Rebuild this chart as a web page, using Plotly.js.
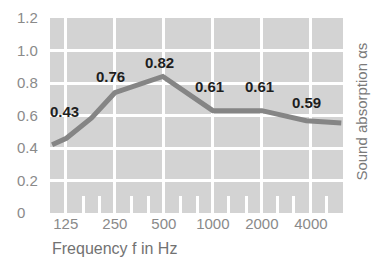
<!DOCTYPE html>
<html>
<head>
<meta charset="utf-8">
<script src="https://cdn.plot.ly/plotly-3.0.1.min.js"></script>
<style>html,body{margin:0;padding:0;background:#fff;}#chart{width:371px;height:258px;}</style>
</head>
<body>
<div id="chart"></div>
<script>
// Curve (frequency in Hz, absorption)
const curveFreq = [103, 126, 180, 250, 493, 1000, 2000, 3750, 6150];
const curveAlpha = [0.42, 0.46, 0.585, 0.74, 0.84, 0.63, 0.63, 0.568, 0.554];

// Octave-band labels
const labelFreq = [125, 250, 500, 1000, 2000, 4000];
const labelValue = [0.43, 0.76, 0.82, 0.61, 0.61, 0.59];

// Axis ticks
const octaveTicks = [125, 250, 500, 1000, 2000, 4000];
const octaveTickText = ['125', '250', '500', '1000', '2000', '4000'];
const thirdOctaveTicks = [160, 200, 315, 400, 630, 800, 1250, 1600, 2500, 3150, 5000];
const yTicks = [0, 0.2, 0.4, 0.6, 0.8, 1.0, 1.2];
const yTickText = ['0', '0.2', '0.4', '0.6', '0.8', '1.0', '1.2'];

// label placement offsets (px)
const labelXShift = [-1, -4, -4, -3, -2, -4];
const labelYShift = [32, 13, 17, 27, 27, 15];

const FONT = 'Liberation Sans, Arial, sans-serif';

const annotations = labelFreq.map((f, i) => ({
  x: Math.log10(f), y: labelValue[i], xref: 'x', yref: 'y',
  text: labelValue[i].toFixed(2), showarrow: false,
  xshift: labelXShift[i], yshift: labelYShift[i],
  font: {family: FONT, size: 15, color: '#1e1e1e', weight: 'bold'}
}));
annotations.push({
  xref: 'paper', yref: 'paper', x: 1, y: 0.52, xshift: 19,
  text: 'Sound absorption αs', textangle: -90, showarrow: false,
  xanchor: 'center', yanchor: 'middle',
  font: {family: FONT, size: 15, color: '#7a7a7a'}
});
annotations.push({
  xref: 'paper', yref: 'paper', x: 0.104, y: -0.18,
  xanchor: 'left', yanchor: 'middle',
  text: 'Frequency f in Hz', showarrow: false,
  font: {family: FONT, size: 16, color: '#727272'}
});

const data = [{
  type: 'scatter', mode: 'lines',
  x: curveFreq, y: curveAlpha,
  line: {color: '#858585', width: 5},
  hoverinfo: 'skip'
}];

const layout = {
  width: 371, height: 258,
  margin: {l: 16, r: 28, t: 18, b: 45},
  paper_bgcolor: '#ffffff',
  plot_bgcolor: '#d3d3d3',
  showlegend: false,
  xaxis: {
    type: 'log', domain: [0.104, 1],
    range: [Math.log10(100), Math.log10(6300)],
    tickvals: octaveTicks, ticktext: octaveTickText,
    showgrid: true, gridcolor: '#ffffff', gridwidth: 3,
    ticks: '', zeroline: false, showline: false,
    tickfont: {family: FONT, size: 15, color: '#8a8a8a'},
    minor: {tickvals: thirdOctaveTicks, ticks: 'inside', ticklen: 17, tickwidth: 3, tickcolor: '#ffffff', showgrid: false}
  },
  yaxis: {
    range: [0, 1.2], side: 'right', anchor: 'free', position: 0,
    tickvals: yTicks, ticktext: yTickText,
    showgrid: true, gridcolor: '#ffffff', gridwidth: 3,
    ticks: '', zeroline: false, showline: false,
    tickfont: {family: FONT, size: 15, color: '#8a8a8a'}
  },
  annotations: annotations
};

Plotly.newPlot('chart', data, layout, {staticPlot: true, displayModeBar: false});
</script>
</body>
</html>
